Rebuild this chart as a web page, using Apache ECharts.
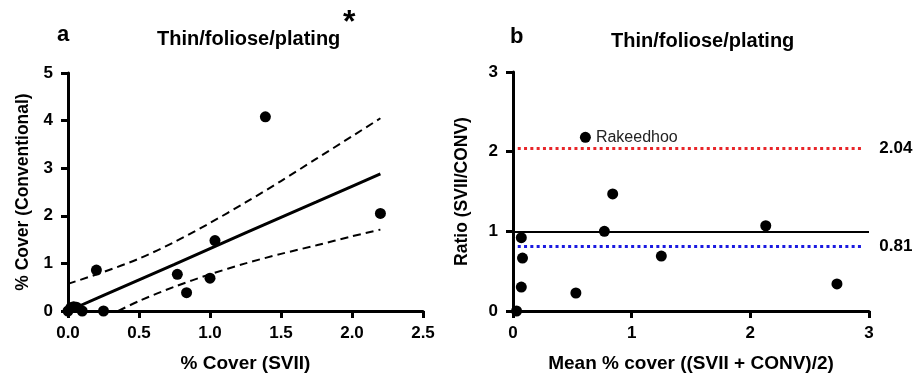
<!DOCTYPE html>
<html><head><meta charset="utf-8">
<script src="https://cdn.jsdelivr.net/npm/echarts@6/dist/echarts.min.js"></script>
<style>html,body{margin:0;padding:0;background:#fff}#c{width:915px;height:375px}</style>
</head><body><div id="c"></div>
<script>
// Panel a: scatter of % cover
const aX = [0, 0.02, 0.04, 0.06, 0.10, 0.25, 0.20, 0.77, 0.835, 1.0, 1.035, 1.39, 2.20];
const aY = [0, 0.07, 0.09, 0.08, 0, 0, 0.86, 0.77, 0.385, 0.69, 1.48, 4.08, 2.05];
// regression line and confidence band
const fitX = [0, 0.25, 0.5, 0.75, 1.0, 1.25, 1.5, 1.75, 2.0, 2.2];
const fitY = [0, 0.33, 0.655, 0.98, 1.31, 1.64, 1.965, 2.29, 2.62, 2.88];
const upperY = [0.57, 0.82, 1.10, 1.45, 1.85, 2.28, 2.73, 3.20, 3.67, 4.05];
const lowerX = [0.354, 0.5, 0.75, 1.0, 1.25, 1.5, 1.75, 2.0, 2.2];
const lowerY = [0, 0.21, 0.51, 0.77, 1.00, 1.20, 1.38, 1.57, 1.71];
// Panel b: ratio vs mean
const bX = [0.03, 0.07, 0.08, 0.07, 0.53, 0.61, 0.77, 0.84, 1.25, 2.13, 2.73];
const bY = [0, 0.92, 0.665, 0.30, 0.226, 2.18, 1.0, 1.47, 0.69, 1.07, 0.34];
const bNames = ['', '', '', '', '', 'Rakeedhoo', '', '', '', '', ''];
const ratioRef = 1;
const upperLimit = 2.04;
const lowerLimit = 0.81;
const aXTicks = [0, 2.5, 0.5];
const aYTicks = [0, 5, 1];
const bXTicks = [0, 3, 1];
const bYTicks = [0, 3, 1];

const FONT = "'Liberation Sans', Arial, Helvetica, sans-serif";
const chart = echarts.init(document.getElementById('c'), null, {renderer: 'canvas'});
const axisCommon = {
  axisLine: {show: true, onZero: false, lineStyle: {color: '#000', width: 3}},
  axisTick: {show: true, length: 7, lineStyle: {color: '#000', width: 3}},
  splitLine: {show: false},
  axisLabel: {color: '#000', fontWeight: 'bold', fontSize: 17, fontFamily: FONT},
  nameTextStyle: {color: '#000', fontWeight: 'bold', fontFamily: FONT}
};
function pairs(xs, ys) { return xs.map((x, i) => [x, ys[i]]); }

chart.setOption({
  animation: false,
  textStyle: {fontFamily: FONT},
  title: [
    {text: 'a', left: 52, top: 19, textStyle: {fontSize: 22, fontWeight: 'bold', color: '#000', fontFamily: FONT}},
    {text: 'Thin/foliose/plating', left: 152, top: 24, textStyle: {fontSize: 20, fontWeight: 'bold', color: '#000', fontFamily: FONT}},
    {text: '*', left: 338, top: 2, textStyle: {fontSize: 32, fontWeight: 'bold', color: '#000', fontFamily: FONT}},
    {text: 'b', left: 505, top: 21, textStyle: {fontSize: 22, fontWeight: 'bold', color: '#000', fontFamily: FONT}},
    {text: 'Thin/foliose/plating', left: 606, top: 26, textStyle: {fontSize: 20, fontWeight: 'bold', color: '#000', fontFamily: FONT}}
  ],
  grid: [
    {left: 68, top: 73, width: 355, height: 238, containLabel: false, outerBoundsMode: 'none'},
    {left: 513, top: 72, width: 356, height: 239, containLabel: false, outerBoundsMode: 'none'}
  ],
  xAxis: [
    Object.assign({}, axisCommon, {
      gridIndex: 0, type: 'value', min: aXTicks[0], max: aXTicks[1], interval: aXTicks[2],
      name: '% Cover (SVII)', nameLocation: 'middle', nameGap: 43,
      nameTextStyle: Object.assign({}, axisCommon.nameTextStyle, {fontSize: 19}),
      axisLabel: Object.assign({}, axisCommon.axisLabel, {margin: 14, formatter: v => v.toFixed(1)})
    }),
    Object.assign({}, axisCommon, {
      gridIndex: 1, type: 'value', min: bXTicks[0], max: bXTicks[1], interval: bXTicks[2],
      name: 'Mean % cover ((SVII + CONV)/2)', nameLocation: 'middle', nameGap: 43,
      nameTextStyle: Object.assign({}, axisCommon.nameTextStyle, {fontSize: 19}),
      axisLabel: Object.assign({}, axisCommon.axisLabel, {margin: 14})
    })
  ],
  yAxis: [
    Object.assign({}, axisCommon, {
      gridIndex: 0, type: 'value', min: aYTicks[0], max: aYTicks[1], interval: aYTicks[2],
      name: '% Cover (Conventional)', nameLocation: 'middle', nameGap: 36,
      nameTextStyle: Object.assign({}, axisCommon.nameTextStyle, {fontSize: 17.5}),
      axisLabel: Object.assign({}, axisCommon.axisLabel, {margin: 15})
    }),
    Object.assign({}, axisCommon, {
      gridIndex: 1, type: 'value', min: bYTicks[0], max: bYTicks[1], interval: bYTicks[2],
      name: 'Ratio (SVII/CONV)', nameLocation: 'middle', nameGap: 42,
      nameTextStyle: Object.assign({}, axisCommon.nameTextStyle, {fontSize: 17.5}),
      axisLabel: Object.assign({}, axisCommon.axisLabel, {margin: 15})
    })
  ],
  series: [
    {type: 'line', xAxisIndex: 0, yAxisIndex: 0, data: pairs(fitX, fitY), showSymbol: false, symbol: 'none',
      lineStyle: {color: '#000', width: 3}, z: 3},
    {type: 'line', xAxisIndex: 0, yAxisIndex: 0, data: pairs(fitX, upperY), showSymbol: false, symbol: 'none', smooth: 0.3,
      lineStyle: {color: '#000', width: 2, type: [8, 5]}, z: 3},
    {type: 'line', xAxisIndex: 0, yAxisIndex: 0, data: pairs(lowerX, lowerY), showSymbol: false, symbol: 'none', smooth: 0.3,
      lineStyle: {color: '#000', width: 2, type: [8, 5]}, z: 3},
    {type: 'scatter', xAxisIndex: 0, yAxisIndex: 0, data: pairs(aX, aY), symbolSize: 11, clip: false,
      itemStyle: {color: '#000', opacity: 1}, z: 4},
    {type: 'scatter', xAxisIndex: 1, yAxisIndex: 1, clip: false, symbolSize: 11,
      itemStyle: {color: '#000', opacity: 1}, z: 4,
      data: bX.map((x, i) => ({value: [x, bY[i]], name: bNames[i],
        label: bNames[i] ? {show: true, position: 'right', distance: 5, formatter: '{b}', color: '#222', fontSize: 16, fontFamily: FONT} : {show: false}})),
      markLine: {
        silent: true, symbol: ['none', 'none'], animation: false,
        data: [
          [{coord: [0, ratioRef], lineStyle: {color: '#000', width: 2, type: 'solid'}, label: {show: false}}, {coord: [3, ratioRef]}],
          [{coord: [0.04, upperLimit], lineStyle: {color: '#e8262a', width: 3, type: [3, 3.3]},
            label: {show: true, position: 'end', distance: 15, formatter: String(upperLimit.toFixed(2)), color: '#000', fontWeight: 'bold', fontSize: 17, fontFamily: FONT}},
           {coord: [2.96, upperLimit]}],
          [{coord: [0.04, lowerLimit], lineStyle: {color: '#1a1ae0', width: 3, type: [3, 3.3]},
            label: {show: true, position: 'end', distance: 15, formatter: String(lowerLimit.toFixed(2)), color: '#000', fontWeight: 'bold', fontSize: 17, fontFamily: FONT}},
           {coord: [2.96, lowerLimit]}]
        ]
      }
    }
  ]
});
</script></body></html>
